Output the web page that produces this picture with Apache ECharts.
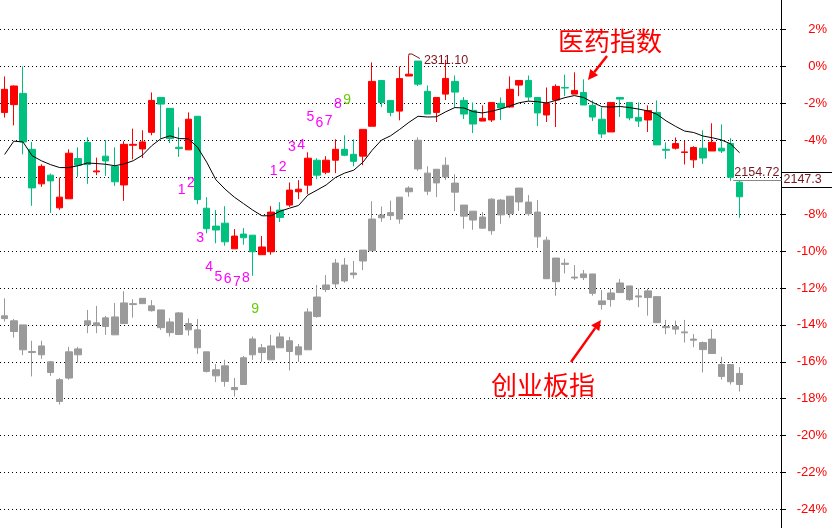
<!DOCTYPE html>
<html>
<head>
<meta charset="utf-8">
<script src="https://cdn.jsdelivr.net/npm/echarts@6/dist/echarts.min.js"></script>
<style>
html,body{margin:0;padding:0;background:#ffffff;}
#c{width:832px;height:528px;}
</style>
</head>
<body>
<div id="c"></div>
<script>
// ---- axis (percent change) ----
const pctMin = -24;
const pctMax = 2;
const pctStep = 2;

// ---- categories: 81 trading days + empty slots before the price axis ----
const dayLabels = Array.from({length: 81}, (_, i) => 'D' + (i + 1));
const padLabels = ['p1', 'p2', 'p3', 'p4'];

// ---- 医药指数 candles, % change: [open, close, low, high] ----
const yiyaoOHLC = [
  [-2.50,-1.24,-2.77,-0.54],[-2.07,-1.06,-3.19,-1.03],[-1.46,-4.09,-4.76,0.00],[-4.49,-6.58,-7.55,-4.09],
  [-6.36,-5.41,-6.52,-5.30],[-5.89,-6.20,-7.93,-5.80],[-7.66,-7.08,-7.77,-6.02],[-7.17,-4.70,-7.17,-4.49],
  [-4.99,-5.35,-5.98,-4.38],[-4.11,-5.31,-6.36,-3.84],[-5.71,-5.66,-5.89,-4.94],[-4.86,-5.12,-5.93,-4.00],
  [-5.41,-6.25,-6.47,-4.38],[-6.42,-4.22,-7.28,-4.05],[-4.27,-4.22,-5.03,-3.37],[-4.47,-4.09,-4.96,-3.46],
  [-3.57,-1.84,-3.73,-1.41],[-1.68,-2.04,-3.91,-1.68],[-2.27,-3.91,-4.15,-2.27],[-4.38,-4.45,-4.90,-3.30],
  [-4.52,-2.86,-4.52,-2.49],[-2.70,-7.21,-7.46,-2.70],[-7.68,-8.79,-9.04,-7.08],[-8.65,-8.86,-9.58,-7.78],
  [-8.49,-9.50,-9.71,-7.57],[-9.88,-9.19,-9.88,-8.81],[-9.08,-9.28,-9.66,-8.76],[-9.14,-10.04,-11.34,-9.14],
  [-10.20,-9.78,-10.20,-9.19],[-10.04,-7.89,-10.20,-7.57],[-7.78,-8.18,-8.43,-7.35],[-7.51,-6.70,-7.61,-6.29],
  [-6.79,-6.65,-7.19,-6.16],[-6.43,-4.97,-6.92,-4.65],[-5.08,-5.89,-6.11,-4.97],[-5.73,-5.08,-5.84,-4.86],
  [-5.08,-4.49,-5.78,-3.95],[-4.49,-4.81,-4.86,-3.73],[-4.76,-5.14,-5.41,-3.95],[-4.86,-3.41,-5.35,-3.41],
  [-3.24,-0.81,-3.24,0.22],[-0.76,-1.95,-2.20,-0.76],[-1.84,-2.49,-2.70,-1.84],[-2.42,-0.66,-2.92,0.00],
  [-0.52,-0.42,-0.52,0.59],[0.29,-0.96,-1.06,0.29],[-1.35,-2.58,-2.58,-1.03],[-2.49,-1.68,-3.01,-1.68],
  [-1.50,-0.65,-1.82,0.36],[-0.81,-1.39,-2.22,-0.49],[-1.84,-2.58,-2.85,-1.66],[-2.38,-3.12,-3.61,-1.95],
  [-2.96,-2.81,-2.96,-2.11],[-2.90,-1.95,-3.01,-1.95],[-2.00,-2.25,-2.90,-1.68],[-2.20,-1.24,-2.25,-0.54],
  [-1.01,-0.76,-1.61,-0.76],[-0.76,-1.66,-1.88,-0.49],[-1.68,-2.52,-3.23,-1.68],[-2.63,-2.00,-3.01,-1.14],
  [-1.82,-1.08,-3.28,-0.97],[-1.14,-1.17,-1.61,-0.45],[-1.50,-1.30,-1.50,-0.32],[-1.41,-2.09,-2.09,-0.70],
  [-2.11,-2.74,-2.96,-1.84],[-2.86,-3.66,-3.88,-2.22],[-3.55,-1.95,-3.55,-1.95],[-1.68,-1.77,-2.74,-1.68],
  [-1.95,-2.79,-2.92,-1.95],[-2.76,-2.96,-3.28,-1.95],[-2.90,-2.39,-3.55,-2.11],[-2.49,-4.25,-4.25,-1.84],
  [-4.49,-4.54,-5.01,-4.11],[-4.43,-4.18,-4.50,-3.85],[-4.66,-4.63,-5.31,-4.04],[-5.06,-4.39,-5.50,-4.32],
  [-4.43,-4.96,-5.28,-3.46],[-4.58,-4.11,-4.58,-3.08],[-4.43,-4.58,-4.69,-3.14],[-4.18,-6.00,-6.20,-3.89],
  [-6.27,-7.06,-8.20,-6.20]
];

// ---- 医药指数 moving average line, % change ----
const yiyaoMA = [
  -4.77,-4.05,-4.09,-4.84,-5.11,-5.32,-5.48,-5.48,-5.38,-5.23,-5.26,-5.30,-5.38,-5.28,-5.11,-4.81,
  -4.30,-3.92,-3.76,-3.91,-3.92,-4.38,-5.19,-6.14,-6.65,-7.08,-7.43,-7.78,-8.09,-8.09,-7.84,-7.68,
  -7.53,-6.97,-6.70,-6.42,-6.02,-5.78,-5.62,-5.19,-4.54,-4.00,-3.76,-3.41,-3.03,-2.70,-2.74,-2.73,
  -2.46,-2.23,-2.25,-2.45,-2.52,-2.43,-2.30,-2.14,-1.97,-1.88,-1.91,-1.98,-1.84,-1.69,-1.58,-1.68,
  -1.95,-2.18,-2.20,-2.17,-2.23,-2.31,-2.41,-2.59,-2.95,-3.24,-3.50,-3.58,-3.77,-3.86,-3.98,-4.19,
  -4.68
];

// ---- 创业板指 candles, % change: [open, close, low, high] ----
const chuangyeOHLC = [
  [-13.51,-13.66,-13.82,-12.56],[-13.78,-14.36,-14.69,-13.68],[-14.00,-15.35,-15.64,-14.00],[-15.44,-15.50,-16.79,-14.86],
  [-15.14,-15.62,-15.84,-14.86],[-16.00,-16.58,-16.76,-15.95],[-16.97,-18.15,-18.32,-16.88],[-15.46,-16.88,-16.97,-15.19],
  [-15.30,-15.62,-16.04,-15.19],[-13.78,-14.00,-14.45,-13.19],[-13.89,-14.04,-14.45,-12.97],[-13.62,-14.09,-14.54,-13.51],
  [-13.57,-14.54,-14.54,-12.81],[-12.81,-13.93,-13.93,-12.18],[-12.85,-12.90,-13.61,-12.61],[-12.56,-12.85,-12.85,-12.56],
  [-12.97,-13.23,-13.28,-12.66],[-13.19,-14.15,-14.27,-13.19],[-13.84,-14.42,-14.63,-13.64],[-13.35,-14.52,-14.52,-13.31],
  [-13.93,-14.27,-14.58,-13.64],[-14.27,-15.24,-15.57,-13.68],[-15.46,-16.52,-16.58,-15.46],[-16.43,-16.76,-17.10,-16.12],
  [-16.22,-17.06,-17.35,-15.89],[-17.39,-17.51,-17.88,-16.88],[-15.78,-17.23,-17.23,-15.68],[-14.76,-15.62,-15.89,-14.63],
  [-15.24,-15.50,-16.00,-15.03],[-15.14,-15.89,-15.89,-14.54],[-14.65,-15.24,-15.24,-14.42],[-14.86,-15.44,-16.47,-14.65],
  [-15.19,-15.62,-16.00,-15.03],[-13.30,-15.35,-15.35,-13.10],[-12.49,-13.55,-13.61,-11.84],[-11.84,-12.08,-12.22,-11.30],
  [-10.65,-11.78,-12.00,-10.43],[-10.76,-11.62,-11.71,-10.38],[-11.19,-11.28,-11.49,-10.54],[-9.95,-10.54,-11.03,-9.95],
  [-8.27,-9.98,-9.98,-7.30],[-8.05,-8.20,-8.42,-7.59],[-7.92,-8.08,-8.32,-7.27],[-7.08,-8.27,-8.52,-7.08],
  [-6.59,-6.79,-7.06,-6.49],[-4.00,-5.55,-5.66,-3.84],[-5.78,-6.76,-6.97,-5.41],[-5.57,-6.31,-7.08,-5.57],
  [-5.35,-5.98,-6.15,-4.92],[-6.32,-6.81,-7.84,-5.84],[-7.51,-8.11,-8.79,-7.51],[-7.84,-8.32,-8.85,-7.84],
  [-8.16,-8.76,-8.79,-7.89],[-7.19,-8.90,-9.12,-7.14],[-7.24,-8.04,-8.52,-7.19],[-7.03,-7.98,-8.20,-7.03],
  [-6.59,-7.34,-7.82,-6.59],[-7.35,-7.98,-8.09,-6.97],[-7.89,-9.23,-9.82,-7.24],[-9.41,-11.50,-11.50,-9.22],
  [-10.38,-11.66,-12.42,-10.38],[-10.66,-10.72,-11.21,-10.42],[-11.41,-11.46,-11.57,-10.76],[-11.24,-11.44,-11.57,-11.03],
  [-11.24,-12.29,-12.42,-11.24],[-12.70,-12.90,-13.17,-12.11],[-12.27,-12.63,-13.01,-12.04],[-11.73,-12.25,-12.25,-11.51],
  [-11.89,-12.63,-12.69,-11.89],[-12.43,-12.49,-13.04,-12.04],[-12.16,-12.52,-13.50,-12.04],[-12.47,-13.88,-13.88,-12.47],
  [-14.09,-14.15,-14.50,-13.73],[-14.09,-14.23,-14.52,-13.77],[-14.38,-14.43,-14.96,-13.73],[-14.77,-14.83,-15.21,-14.50],
  [-14.96,-15.34,-16.58,-14.90],[-14.77,-15.55,-15.55,-14.23],[-16.15,-16.79,-16.96,-15.73],[-16.15,-17.08,-17.23,-16.15],
  [-16.63,-17.23,-17.61,-16.29]
];

// ---- setup counts (day indices) ----
const downCountDays = [19, 20, 21, 22, 23, 24, 25, 26, 27];
const upCountDays = [29, 30, 31, 32, 33, 34, 35, 36, 37];
const countNumbers = [1, 2, 3, 4, 5, 6, 7, 8, 9];

// ---- value labels ----
const highDay = 44;
const highText = '2311.10';
const lastLinePct = -6.16;
const lastLineText = '2154.72';
const axisPriceText = '2147.3';
const hiddenAxisTick = -6;

// ---- annotations ----
const nameYiyao = '医药指数';
const nameChuangye = '创业板指';

// ---------------------------------------------------------------
const RED = '#ff0000', GREEN = '#00c080', GRAY = '#9a9a9a', MAGENTA = '#ff00ff', NINE = '#66cc00';
const categories = dayLabels.concat(padLabels);

function countSeries(days, valueIdx, offsetY) {
  return {
    type: 'scatter',
    symbol: 'circle',
    symbolSize: 1,
    itemStyle: {color: 'rgba(0,0,0,0)', opacity: 1},
    z: 5,
    silent: true,
    data: days.map((d, k) => ({
      value: [d, yiyaoOHLC[d][valueIdx]],
      label: {formatter: String(countNumbers[k]), color: countNumbers[k] === 9 ? NINE : MAGENTA}
    })),
    label: {show: true, position: 'inside', offset: [2.5, offsetY], fontSize: 14, opacity: 1,
            textBorderWidth: 0, fontFamily: 'Liberation Sans, Arial, sans-serif'}
  };
}

const chart = echarts.init(document.getElementById('c'), null, {renderer: 'canvas', width: 832, height: 528});
chart.setOption({
  animation: false,
  backgroundColor: '#ffffff',
  grid: {left: -4, right: 51, top: 29.5, bottom: 18.5},
  xAxis: {
    type: 'category', data: categories, boundaryGap: true,
    axisLine: {show: false}, axisTick: {show: false}, axisLabel: {show: false}, splitLine: {show: false}
  },
  yAxis: {
    type: 'value', position: 'right', min: pctMin, max: pctMax, interval: pctStep,
    axisLine: {show: false},
    axisTick: {show: true, length: 5, lineStyle: {color: '#000000', width: 1}},
    axisLabel: {formatter: v => (v === hiddenAxisTick ? '' : v + '%'), color: RED, fontSize: 13, align: 'right', margin: 46,
                fontFamily: 'Liberation Sans, Arial, sans-serif'},
    splitLine: {show: true, lineStyle: {color: '#000000', width: 1, type: [1, 3]}}
  },
  series: [
    {
      type: 'candlestick', name: nameChuangye, data: chuangyeOHLC, barWidth: 7,
      itemStyle: {color: GRAY, color0: GRAY, borderColor: GRAY, borderColor0: GRAY, borderWidth: 1}
    },
    {
      type: 'candlestick', name: nameYiyao, data: yiyaoOHLC, barWidth: 7, z: 3,
      itemStyle: {color: RED, color0: GREEN, borderColor: RED, borderColor0: GREEN, borderWidth: 1}
    },
    {
      type: 'line', name: 'MA', data: yiyaoMA, symbol: 'none', z: 4,
      lineStyle: {color: '#000000', width: 1}
    },
    countSeries(downCountDays, 2, 33.5),
    countSeries(upCountDays, 3, -35.3)
  ]
});

// ---- overlay text / arrows positioned through the chart's own scales ----
const toPx = (d, v) => chart.convertToPixel({gridIndex: 0}, [d, v]);
const grid = chart.getModel().getComponent('grid').coordinateSystem.getRect();
const axisX = Math.round(grid.x + grid.width) + 0.5;

function arrow(x1, y1, x2, y2, color) {
  const dx = x2 - x1, dy = y2 - y1, len = Math.hypot(dx, dy), ux = dx / len, uy = dy / len;
  const hl = 10, hw = 5;
  const bx = x2 - ux * hl, by = y2 - uy * hl;
  return [
    {type: 'line', shape: {x1: x1, y1: y1, x2: bx, y2: by}, style: {stroke: color, lineWidth: 2.5}, z: 10},
    {type: 'polygon', shape: {points: [[x2, y2], [bx - uy * hw, by + ux * hw], [bx + uy * hw, by - ux * hw]]},
     style: {fill: color}, z: 10}
  ];
}

const hi = toPx(highDay, yiyaoOHLC[highDay][3]);
const lastY = Math.round(toPx(80, lastLinePct)[1]) + 0.5;
const lastX = toPx(80, lastLinePct)[0];
const numFont = '12.5px "Liberation Sans", Arial, sans-serif';
const cjkFont = '26px "Noto Sans CJK SC", sans-serif';

const elements = [
  // price box background (covers the tick under it)
  {type: 'rect', shape: {x: axisX + 0.5, y: lastY - 8, width: 832 - axisX, height: 15}, style: {fill: '#ffffff'}, z: 9},
  // price axis line over the full height
  {type: 'line', shape: {x1: axisX, y1: 0, x2: axisX, y2: 528}, style: {stroke: '#000000', lineWidth: 1}, z: 10},
  // high label
  {type: 'polyline', shape: {points: [[hi[0], hi[1]], [hi[0], hi[1] - 1.5], [hi[0] + 3, hi[1] - 1.5], [hi[0] + 11, hi[1] + 3]]},
   style: {stroke: '#8b1010', lineWidth: 1, fill: null}, z: 10},
  {type: 'text', x: hi[0] + 15, y: hi[1] + 5.5, z: 10,
   style: {text: highText, fill: '#7a1520', font: numFont, align: 'left', verticalAlign: 'middle',
           textAlign: 'left', textVerticalAlign: 'middle'}},
  // last line + labels
  {type: 'line', shape: {x1: lastX - 6.5, y1: lastY, x2: axisX, y2: lastY}, style: {stroke: '#888888', lineWidth: 1}, z: 10},
  {type: 'text', x: axisX - 2, y: lastY - 1.5, z: 10,
   style: {text: lastLineText, fill: '#7a1520', font: numFont, align: 'right', verticalAlign: 'bottom',
           textAlign: 'right', textVerticalAlign: 'bottom'}},
  {type: 'line', shape: {x1: axisX, y1: lastY - 8, x2: 832, y2: lastY - 8}, style: {stroke: '#000000', lineWidth: 1}, z: 10},
  {type: 'line', shape: {x1: axisX, y1: lastY + 7, x2: 832, y2: lastY + 7}, style: {stroke: '#000000', lineWidth: 1}, z: 10},
  {type: 'text', x: axisX + 2, y: lastY - 0.5, z: 10,
   style: {text: axisPriceText, fill: '#7a1520', font: numFont, align: 'left', verticalAlign: 'middle',
           textAlign: 'left', textVerticalAlign: 'middle'}},
  // annotations
  {type: 'text', x: 558, y: 41, z: 10,
   style: {text: nameYiyao, fill: RED, font: cjkFont, align: 'left', verticalAlign: 'middle',
           textAlign: 'left', textVerticalAlign: 'middle'}},
  {type: 'text', x: 491, y: 385, z: 10,
   style: {text: nameChuangye, fill: RED, font: cjkFont, align: 'left', verticalAlign: 'middle',
           textAlign: 'left', textVerticalAlign: 'middle'}}
].concat(arrow(607, 56, 588, 80, RED)).concat(arrow(571, 362, 601, 320, RED));

chart.setOption({graphic: {elements: elements}});
</script>
</body>
</html>
